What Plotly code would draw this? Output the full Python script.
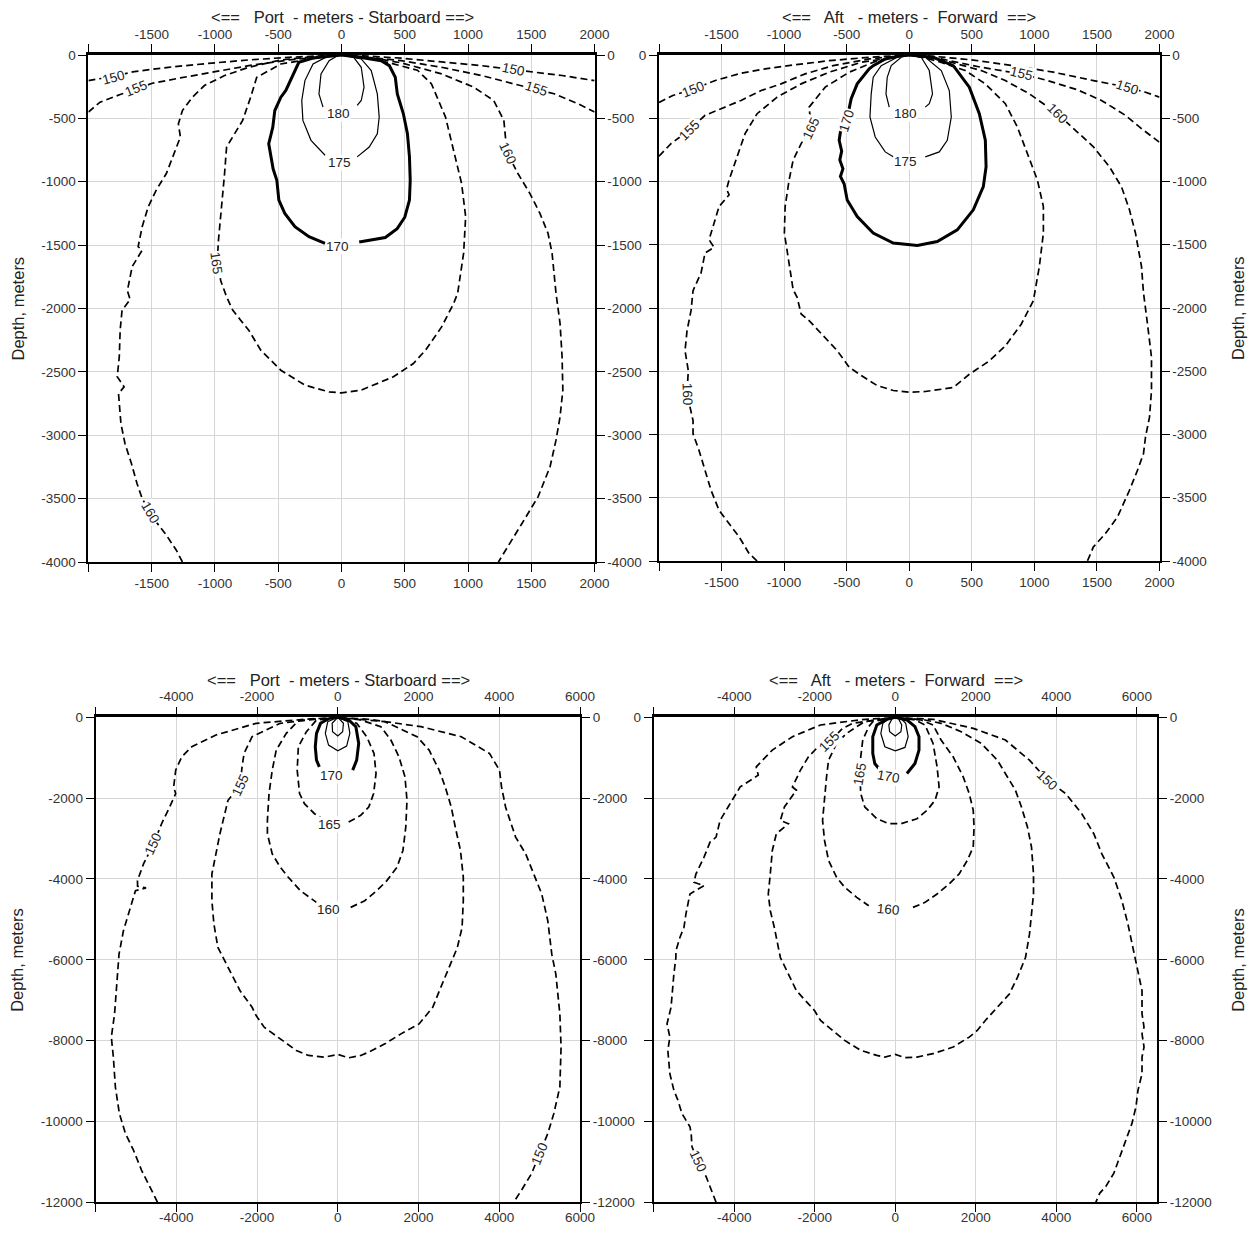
import plotly.graph_objects as go

# ---------------- Top-left panel (Port / Starboard, shallow) ----------------
TL_150 = [(-2000,-202),(-1800,-168),(-1638,-131),(-1368,-97),(-1051,-66),(-733,-39),(-416,-18),(-162,-6),(0,0),
          (156,-6),(473,-25),(791,-55),(1108,-84),(1362,-116),(1552,-140),(1743,-162),(2000,-202)]
TL_155 = [(-2000,-450),(-1908,-372),(-1749,-312),(-1622,-268),(-1495,-223),(-1273,-181),(-1019,-136),(-733,-84),
          (-416,-39),(-162,-13),(0,0),(156,-13),(473,-45),(791,-97),(1108,-162),(1362,-228),(1537,-268),(1680,-306),
          (1870,-385),(2000,-450)]
TL_160 = [(-1257,-4000),(-1305,-3907),(-1384,-3788),(-1495,-3644),(-1511,-3610),(-1575,-3499),(-1616,-3381),(-1660,-3223),
          (-1711,-3065),(-1743,-2907),(-1762,-2671),(-1718,-2618),(-1772,-2539),(-1756,-2381),(-1749,-2171),
          (-1734,-2013),(-1670,-1930),(-1692,-1860),(-1654,-1669),(-1575,-1540),(-1607,-1512),(-1575,-1355),
          (-1527,-1197),(-1464,-1066),(-1384,-935),(-1321,-778),(-1273,-647),(-1289,-542),(-1257,-438),
          (-1178,-333),(-1083,-241),(-924,-162),(-733,-97),(-479,-39),(-225,-13),(0,0),
          (219,-18),(473,-62),(791,-149),(1045,-254),(1203,-359),(1283,-516),(1298,-673),(1314,-778),(1394,-935),
          (1489,-1093),(1568,-1250),(1632,-1407),(1664,-1564),(1695,-1879),(1727,-2118),(1743,-2381),
          (1749,-2644),(1727,-2855),(1695,-3039),(1648,-3249),(1553,-3486),(1426,-3696),(1330,-3854),(1240,-4000)]
TL_165 = [(0,0),(-162,-18),(-479,-71),(-670,-176),(-718,-333),(-781,-516),(-876,-673),(-908,-726),(-924,-935),
          (-949,-1197),(-972,-1459),(-980,-1600),(-955,-1780),(-908,-1908),(-860,-2013),(-797,-2092),(-733,-2171),
          (-638,-2329),(-479,-2487),(-289,-2605),(-98,-2658),(0,-2666),(156,-2644),(410,-2539),(568,-2434),
          (664,-2329),(791,-2145),(886,-1961),(918,-1879),(965,-1564),(981,-1276),(949,-1014),(886,-752),
          (822,-490),(711,-228),(600,-120),(410,-70),(219,-25),(0,0)]
TL_170 = [(-130,-1486),(-257,-1433),(-368,-1355),(-448,-1250),(-495,-1145),(-511,-988),(-540,-900),(-559,-804),
          (-575,-700),(-560,-640),(-543,-569),(-527,-438),(-479,-333),(-440,-280),(-416,-228),(-390,-180),
          (-368,-123),(-337,-58),(-225,-24),(-98,-8),(0,0),(156,-20),(314,-45),(378,-84),(425,-176),(441,-307),
          (489,-464),(521,-621),(537,-804),(543,-988),(537,-1145),(500,-1280),(440,-1370),(346,-1440),(140,-1475)]
TL_175 = [(-130,-791),(-241,-673),(-305,-516),(-314,-359),(-289,-202),(-225,-71),(-114,-13),(0,0),(156,-31),
          (235,-123),(283,-307),(298,-490),(283,-621),(219,-726),(124,-804)]
TL_180 = [(-146,-411),(-178,-307),(-162,-149),(-98,-45),(-35,-8),(0,0),(92,-13),(156,-97),(178,-254),
          (156,-359),(124,-398)]
TL_LABELS = [("150",-1800,-175,-15),("155",-1622,-268,-22),("150",1362,-116,12),("155",1537,-268,18),
             ("160",1314,-778,65),("165",-987,-1643,82),("160",-1511,-3610,60),("170",-35,-1507,0),
             ("175",-19,-849,0),("180",-25,-464,0)]

# ---------------- Top-right panel (Aft / Forward, shallow) ----------------
TR_150 = [(-2000,-375),(-1890,-320),(-1728,-270),(-1536,-197),(-1344,-144),(-1152,-110),(-928,-79),(-640,-45),
          (-320,-18),(0,0),(192,-10),(512,-40),(832,-84),(1152,-136),(1472,-202),(1744,-255),(1888,-294),(2000,-333)]
TR_155 = [(-2000,-800),(-1904,-700),(-1760,-595),(-1632,-477),(-1504,-425),(-1344,-359),(-1184,-281),(-1024,-228),
          (-832,-149),(-608,-84),(-320,-31),(0,0),(256,-31),(576,-97),(896,-150),(1088,-197),(1344,-275),
          (1536,-359),(1728,-477),(1856,-582),(2000,-690)]
TR_160 = [(-1216,-4000),(-1280,-3941),(-1360,-3809),(-1440,-3704),(-1520,-3599),(-1584,-3441),(-1632,-3283),
          (-1680,-3126),(-1728,-2994),(-1728,-2889),(-1776,-2679),(-1766,-2494),(-1792,-2337),(-1776,-2179),
          (-1744,-2021),(-1728,-1863),(-1664,-1723),(-1632,-1565),(-1560,-1520),(-1600,-1460),(-1568,-1356),
          (-1520,-1198),(-1440,-1106),(-1460,-1060),(-1440,-988),(-1376,-805),(-1312,-621),(-1216,-464),
          (-1056,-333),(-864,-228),(-640,-136),(-384,-58),(0,0),(288,-45),(576,-123),(768,-202),(960,-307),
          (1184,-464),(1344,-608),(1472,-726),(1600,-884),(1696,-1041),(1760,-1224),(1808,-1408),(1856,-1670),
          (1872,-1880),(1904,-2126),(1936,-2389),(1936,-2652),(1920,-2863),(1888,-3020),(1872,-3152),
          (1824,-3283),(1760,-3441),(1664,-3652),(1568,-3783),(1472,-3888),(1424,-4000)]
TR_165 = [(0,0),(-256,-45),(-480,-136),(-672,-254),(-800,-412),(-784,-582),(-864,-700),(-928,-831),(-960,-988),
          (-992,-1198),(-998,-1408),(-960,-1670),(-928,-1854),(-896,-1916),(-864,-2047),(-800,-2100),(-672,-2231),
          (-576,-2337),(-480,-2468),(-384,-2534),(-256,-2613),(-128,-2652),(0,-2666),(128,-2660),(352,-2629),
          (480,-2524),(640,-2418),(768,-2300),(896,-2126),(992,-1942),(1040,-1670),(1072,-1408),(1072,-1198),
          (1024,-988),(944,-779),(864,-569),(768,-385),(608,-228),(448,-123),(256,-58),(128,-24),(0,0)]
TR_170 = [(0,0),(-64,-5),(-192,-31),(-288,-84),(-320,-110),(-416,-228),(-464,-346),(-500,-517),(-550,-608),
          (-560,-674),(-540,-760),(-555,-830),(-530,-900),(-550,-960),(-520,-1020),(-496,-1146),(-416,-1277),
          (-288,-1408),(-128,-1487),(0,-1502),(64,-1505),(224,-1474),(384,-1382),(512,-1224),(592,-1041),
          (614,-884),(608,-674),(560,-464),(480,-254),(352,-84),(192,-18),(0,0)]
TR_175 = [(-128,-805),(-192,-766),(-272,-648),(-314,-490),(-304,-307),(-288,-176),(-224,-84),(-96,-18),(0,0),
          (128,-18),(256,-123),(320,-281),(336,-490),(304,-674),(240,-766),(128,-805)]
TR_180 = [(-160,-412),(-186,-307),(-176,-176),(-144,-84),(-64,-18),(0,0),(96,-18),(160,-123),(186,-307),
          (160,-385),(128,-412)]
TR_LABELS = [("150",-1728,-275,-21),("155",-1760,-595,-45),("165",-784,-582,-65),("170",-500,-517,-72),
             ("155",896,-150,14),("150",1744,-255,18),("160",1184,-464,45),("160",-1776,-2679,88),
             ("180",-32,-464,0),("175",-32,-844,0)]

# ---------------- Bottom-left panel (Port / Starboard, deep) ----------------
BL_150 = [(-4465,-12000),(-4664,-11614),(-4863,-11203),(-5062,-10710),(-5261,-10299),(-5411,-9806),(-5510,-9148),
          (-5560,-8408),(-5610,-7915),(-5530,-7340),(-5461,-6353),(-5420,-5860),(-5311,-5283),(-5162,-4786),
          (-5012,-4289),(-4750,-4220),(-4960,-4180),(-4963,-4041),(-4813,-3627),(-4564,-3130),(-4365,-2633),
          (-4165,-2219),(-4016,-1888),(-4066,-1722),(-4016,-1308),(-3866,-977),(-3617,-729),(-3019,-439),
          (-2023,-149),(-827,-50),(0,0),(767,-50),(2063,-232),(3059,-480),(3757,-894),(4006,-1308),(4056,-1722),
          (4156,-2219),(4405,-2964),(4654,-3378),(4853,-3875),(5052,-4372),(5202,-5034),(5301,-5862),
          (5401,-6353),(5501,-7340),(5531,-8162),(5501,-9148),(5351,-9806),(5202,-10299),(5002,-10792),
          (4803,-11285),(4554,-11696),(4355,-12000)]
BL_155 = [(0,0),(-700,-60),(-1425,-149),(-2123,-480),(-2322,-894),(-2372,-1225),(-2421,-1681),(-2720,-2053),
          (-2820,-2467),(-2920,-2881),(-3019,-3378),(-3119,-3875),(-3119,-4537),(-3069,-5117),(-2970,-5696),
          (-2670,-6271),(-2421,-6764),(-2123,-7175),(-2023,-7380),(-1824,-7669),(-1425,-7956),(-1026,-8244),
          (-727,-8367),(-329,-8408),(0,-8342),(269,-8425),(568,-8367),(767,-8285),(1166,-8080),(1565,-7833),
          (2013,-7587),(2352,-7175),(2551,-6682),(2751,-6189),(2960,-5700),(3079,-5200),(3109,-4537),
          (3109,-3958),(3039,-3295),(2910,-2716),(2810,-2219),(2661,-1722),(2511,-1308),(2262,-811),
          (1963,-480),(1166,-108),(0,0)]
BL_160 = [(0,0),(-977,-83),(-1276,-397),(-1525,-811),(-1624,-1308),(-1704,-1888),(-1744,-2550),(-1744,-2881),
          (-1624,-3378),(-1425,-3709),(-1226,-3958),(-927,-4289),(-528,-4579),None,(319,-4703),(668,-4537),
          (967,-4289),(1216,-4041),(1465,-3709),(1614,-3295),(1684,-2716),(1714,-2053),(1664,-1474),
          (1515,-977),(1315,-563),(1066,-232),(568,-66),(0,0)]
BL_165 = [(0,0),(-528,-66),(-777,-356),(-977,-729),(-1006,-1308),(-947,-1888),(-827,-2136),(-578,-2385),
          (-428,-2467),None,(269,-2592),(568,-2426),(767,-2219),(887,-1888),(947,-1391),(897,-894),(717,-480),
          (468,-149),(0,0)]
BL_170 = [(-458,-1225),(-528,-1060),(-558,-729),(-528,-397),(-428,-149),(-229,-33),(0,0),(269,-66),(448,-232),
          (518,-646),(468,-1060),(369,-1308)]
BL_175 = [(0,0),(-249,-108),(-309,-397),(-229,-687),(0,-828),(219,-712),(299,-397),(249,-108),(0,0)]
BL_180 = [(0,0),(-140,-149),(-130,-356),(0,-464),(120,-356),(140,-149),(0,0)]
BL_LABELS = [("150",-4564,-3130,-65),("155",-2421,-1681,-65),("170",-159,-1432,0),("165",-209,-2650,0),
             ("160",-229,-4745,0),("150",5002,-10792,-68)]

# ---------------- Bottom-right panel (Aft / Forward, deep) ----------------
BR_150 = [(-4451,-12000),(-4601,-11607),(-4700,-11361),(-4900,-11000),(-5050,-10622),(-5070,-10294),
          (-5100,-10130),(-5299,-9801),(-5399,-9473),(-5499,-9227),(-5599,-8816),(-5649,-8241),(-5599,-7913),
          (-5669,-7585),(-5569,-7174),(-5499,-6353),(-5449,-5943),(-5449,-5779),(-5349,-5448),(-5249,-5200),
          (-5200,-4869),(-5100,-4372),(-4750,-4165),(-5000,-4082),(-4950,-3875),(-4750,-3461),(-4601,-3088),
          (-4451,-2964),(-4351,-2550),(-4152,-2219),(-4002,-1971),(-3852,-1722),(-3403,-1432),(-3453,-1225),
          (-3054,-811),(-2555,-480),(-1856,-190),(-858,-60),(0,0),(938,-50),(1936,-273),(2735,-563),
          (3333,-1060),(3782,-1557),(4232,-1888),(4631,-2385),(4930,-2881),(5130,-3378),(5429,-3958),
          (5629,-4537),(5778,-5117),(5878,-5614),(6028,-6353),(6128,-6764),(6128,-7338),(6178,-7667),
          (6128,-7831),(6178,-8159),(6128,-8406),(6128,-8816),(6028,-9227),(5978,-9637),(5878,-10048),
          (5729,-10458),(5579,-10869),(5429,-11279),(5230,-11607),(5080,-11772),(4980,-12000)]
BR_155 = [(0,0),(-659,-83),(-1058,-149),(-1307,-273),(-1637,-600),(-1956,-770),(-2156,-977),(-2355,-1308),
          (-2555,-1722),(-2455,-1805),(-2754,-2219),(-2854,-2550),(-2655,-2633),(-2954,-2881),(-3054,-3295),
          (-3104,-3875),(-3154,-4372),(-3104,-4786),(-3004,-5200),(-2904,-5697),(-2854,-5943),(-2655,-6353),
          (-2455,-6764),(-2156,-7092),(-2006,-7256),(-1856,-7502),(-1557,-7749),(-1257,-7995),(-858,-8241),
          (-459,-8364),(-259,-8406),(0,-8340),(240,-8422),(539,-8406),(938,-8323),(1437,-8159),(1836,-7913),
          (2036,-7749),(2236,-7502),(2535,-7174),(2834,-6846),(3034,-6435),(3234,-5943),(3333,-5365),
          (3433,-4372),(3433,-3875),(3383,-3213),(3283,-2716),(3134,-2219),(2984,-1805),(2735,-1391),
          (2535,-1060),(2136,-646),(1637,-356),(1138,-149),(739,-66),(0,0)]
BR_160 = [(0,0),(-758,-108),(-958,-232),(-1208,-397),(-1457,-646),(-1657,-1060),(-1707,-1474),(-1757,-2053),
          (-1806,-2550),(-1757,-3047),(-1657,-3544),(-1457,-3958),(-1257,-4206),(-958,-4455),(-659,-4662),None,
          (439,-4703),(739,-4579),(1038,-4372),(1337,-4123),(1587,-3875),(1786,-3544),(1936,-3213),
          (1956,-2716),(1936,-2302),(1836,-1888),(1687,-1474),(1437,-977),(1138,-563),(938,-190),(639,-66),(0,0)]
BR_165 = [(0,0),(-559,-108),(-659,-232),(-808,-563),(-858,-977),(-878,-1391),(-858,-1888),(-758,-2219),
          (-459,-2509),(-160,-2633),(140,-2633),(539,-2509),(788,-2302),(988,-2053),(1088,-1722),(1038,-1225),
          (938,-646),(739,-190),(489,-66),(0,0)]
BR_170 = [(-409,-1267),(-509,-1143),(-559,-894),(-559,-480),(-459,-190),(-210,-50),(0,0),(289,-66),(489,-232),
          (589,-480),(589,-811),(489,-1143),(289,-1391)]
BR_175 = [(0,0),(-160,-33),(-309,-149),(-359,-397),(-259,-729),(0,-828),(240,-745),(319,-480),(259,-149),
          (140,-33),(0,0)]
BR_180 = [(0,0),(-80,-33),(-160,-190),(-140,-356),(0,-464),(140,-356),(160,-190),(80,-33),(0,0)]
BR_LABELS = [("155",-1637,-600,-45),("165",-878,-1391,-80),("170",-180,-1474,10),("160",-160,-4744,5),
             ("150",3782,-1557,43),("150",-4900,-11000,65)]

# ---------------- Axes ----------------
SHALLOW_XTICKS = [-2000, -1500, -1000, -500, 0, 500, 1000, 1500, 2000]
SHALLOW_YTICKS = [0, -500, -1000, -1500, -2000, -2500, -3000, -3500, -4000]
DEEP_XTICKS = [-6000, -4000, -2000, 0, 2000, 4000, 6000]
DEEP_YTICKS = [0, -2000, -4000, -6000, -8000, -10000, -12000]

TITLE_PS = "<==\u00a0\u00a0 Port \u00a0- meters - Starboard ==>"
TITLE_AF = "<==\u00a0\u00a0 Aft \u00a0\u00a0- meters - \u00a0Forward \u00a0==>"
DEPTH = "Depth, meters"

OFF = 8                      # default page margin of the html body
W, H = 1256 - 2 * OFF, 1233 - 2 * OFF
FONT = "Liberation Sans, Arial, Helvetica, sans-serif"

panels = [
    dict(curves=[(150, TL_150), (155, TL_155), (160, TL_160), (165, TL_165), (170, TL_170), (175, TL_175), (180, TL_180)],
         labels=TL_LABELS, xr=[-2000, 2000], yr=[-4000, 0], xt=SHALLOW_XTICKS, yt=SHALLOW_YTICKS,
         box=(88.4, 594.6, 55, 562), title=TITLE_PS, tpos=(342, 17), dside="left", left_labels=True, bshift=0),
    dict(curves=[(150, TR_150), (155, TR_155), (160, TR_160), (165, TR_165), (170, TR_170), (175, TR_175), (180, TR_180)],
         labels=TR_LABELS, xr=[-2000, 2000], yr=[-4000, 0], xt=SHALLOW_XTICKS, yt=SHALLOW_YTICKS,
         box=(659, 1159.5, 55, 561), title=TITLE_AF, tpos=(909, 17), dside="right", left_labels=False, bshift=0),
    dict(curves=[(150, BL_150), (155, BL_155), (160, BL_160), (165, BL_165), (170, BL_170), (175, BL_175), (180, BL_180)],
         labels=BL_LABELS, xr=[-6000, 6000], yr=[-12000, 0], xt=DEEP_XTICKS, yt=DEEP_YTICKS,
         box=(95.6, 580, 717.3, 1202.3), title=TITLE_PS, tpos=(338, 680), dside="left", left_labels=True, bshift=-7),
    dict(curves=[(150, BR_150), (155, BR_155), (160, BR_160), (165, BR_165), (170, BR_170), (175, BR_175), (180, BR_180)],
         labels=BR_LABELS, xr=[-6000, 6500], yr=[-12000, 0], xt=DEEP_XTICKS, yt=DEEP_YTICKS,
         box=(653.7, 1157, 717.3, 1202.3), title=TITLE_AF, tpos=(896, 680), dside="right", left_labels=False, bshift=-7),
]


def split(points):
    xs, ys = [], []
    for p in points:
        if p is None:
            xs.append(None)
            ys.append(None)
        else:
            xs.append(p[0])
            ys.append(p[1])
    return xs, ys


def style(level):
    if level == 170:
        return dict(color="black", width=3.0)
    if level >= 175:
        return dict(color="black", width=1.2)
    return dict(color="black", width=1.7, dash="7px,4px")


def px(x):
    return (x - OFF) / W


def py(y):
    return 1 - (y - OFF) / H


fig = go.Figure()
layout = dict(width=W, height=H, margin=dict(l=0, r=0, t=0, b=0, autoexpand=False), showlegend=False,
              plot_bgcolor="white", paper_bgcolor="white", annotations=[])

tickfont = dict(family=FONT, size=13.5, color="#333")

for i, p in enumerate(panels):
    nb = 2 * i + 1
    nt = 2 * i + 2
    xb = "x" if nb == 1 else f"x{nb}"
    yb = "y" if nb == 1 else f"y{nb}"
    xtop = f"x{nt}"
    yr_ = f"y{nt}"
    x0, x1, y0, y1 = p["box"]
    xdom = [px(x0), px(x1)]
    ydom = [py(y1), py(y0)]
    xtext = ["" if v == p["xt"][0] else str(v) for v in p["xt"]]
    ytext = [str(v) for v in p["yt"]]
    if p["left_labels"]:
        ytext_left = ytext
    else:
        ytext_left = [t if v == 0 else "" for v, t in zip(p["yt"], ytext)]

    for level, pts in p["curves"]:
        xs, ys = split(pts)
        fig.add_trace(go.Scatter(x=xs, y=ys, mode="lines", line=style(level), xaxis=xb, yaxis=yb,
                                 hoverinfo="skip", connectgaps=False))
    fig.add_trace(go.Scatter(x=[None], y=[None], mode="lines", xaxis=xtop, yaxis=yr_, hoverinfo="skip"))

    common = dict(showline=True, linecolor="black", ticks="outside", ticklen=8, tickwidth=1.3,
                  tickcolor="black", tickfont=tickfont, zeroline=False, fixedrange=True, automargin=False)
    layout["xaxis" if nb == 1 else f"xaxis{nb}"] = dict(
        domain=xdom, anchor=yb, side="bottom", range=p["xr"], tickmode="array", tickvals=p["xt"],
        ticktext=xtext, showgrid=True, gridcolor="#d6d6d6", gridwidth=1, linewidth=2,
        ticklabelstandoff=p["bshift"], **common)
    layout[f"xaxis{nt}"] = dict(
        overlaying=xb, anchor=yr_, side="top", range=p["xr"], tickmode="array", tickvals=p["xt"],
        ticktext=xtext, showgrid=False, linewidth=2.6, **common)
    layout["yaxis" if nb == 1 else f"yaxis{nb}"] = dict(
        domain=ydom, anchor=xb, side="left", range=p["yr"], tickmode="array", tickvals=p["yt"],
        ticktext=ytext_left, showgrid=True, gridcolor="#d6d6d6", gridwidth=1, linewidth=2, **common)
    layout[f"yaxis{nt}"] = dict(
        overlaying=yb, anchor=xtop, side="right", range=p["yr"], tickmode="array", tickvals=p["yt"],
        ticktext=ytext, showgrid=False, linewidth=2, **common)

    for txt, lx, ly, ang in p["labels"]:
        layout["annotations"].append(dict(
            text=txt, x=lx, y=ly, xref=xb, yref=yb, showarrow=False, textangle=ang,
            font=dict(family=FONT, size=13.5, color="#222"), bgcolor="white", borderpad=0,
            xanchor="center", yanchor="middle"))

    tx, ty = p["tpos"]
    layout["annotations"].append(dict(
        text=p["title"], x=px(tx), y=py(ty), xref="paper", yref="paper", showarrow=False,
        font=dict(family=FONT, size=16.5, color="#222"), xanchor="center", yanchor="middle"))
    dx = 17 if p["dside"] == "left" else 1238
    layout["annotations"].append(dict(
        text=DEPTH, x=px(dx), y=py((y0 + y1) / 2), xref="paper", yref="paper", showarrow=False,
        textangle=-90, font=dict(family=FONT, size=16.5, color="#222"), xanchor="center", yanchor="middle"))

fig.update_layout(**layout)
fig.write_html("out.html")
